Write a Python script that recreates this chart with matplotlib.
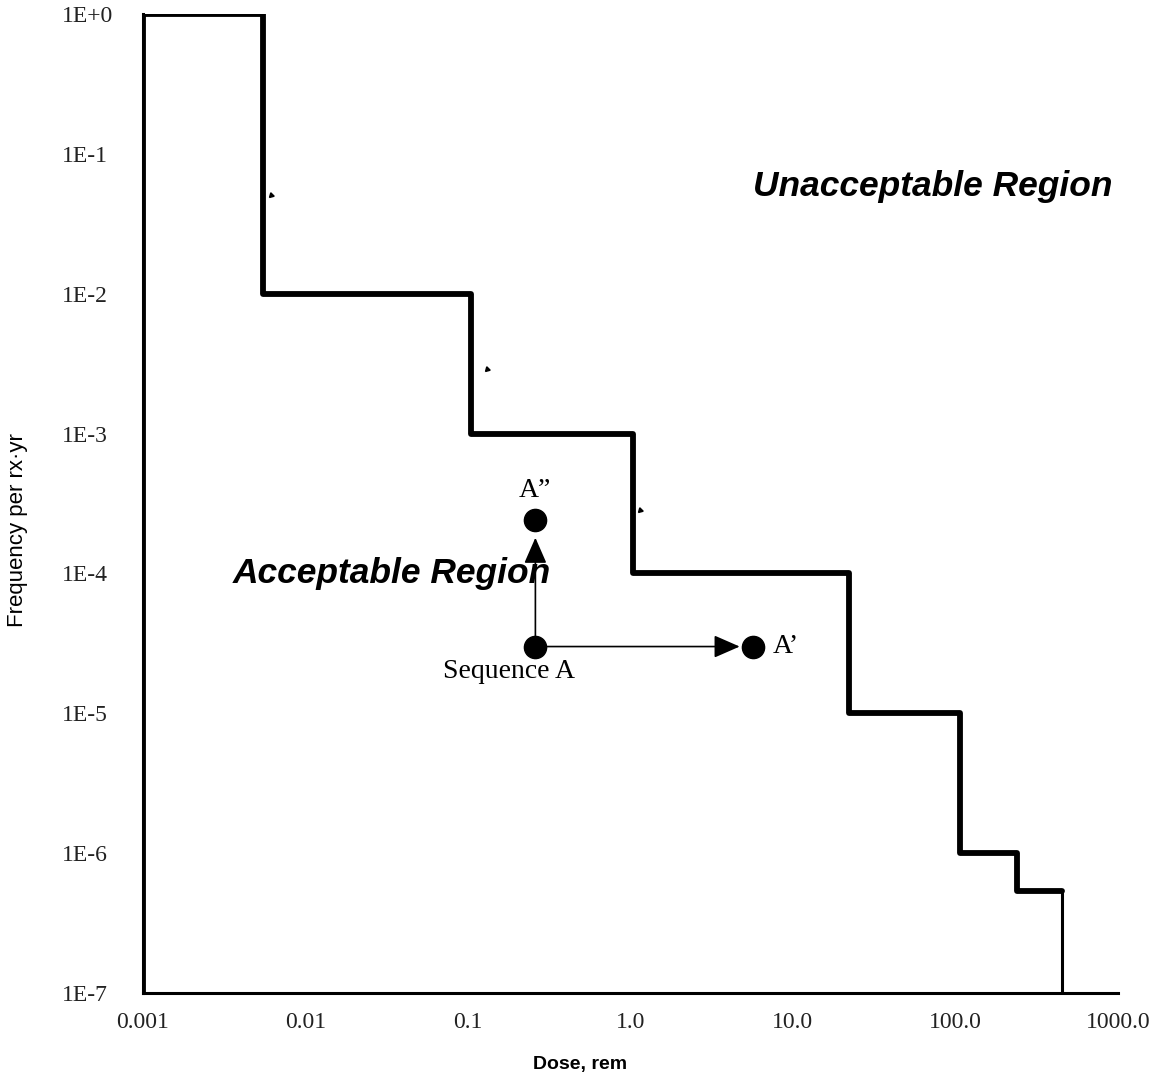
import matplotlib
matplotlib.use("Agg")
from matplotlib import pyplot as plt
import numpy as np

# step boundary between acceptable / unacceptable regions
dose_edges = [0.001, 0.0055, 0.105, 1.03, 22, 106, 240, 450]
freq_levels = [1.0, 1e-2, 1e-3, 1e-4, 1e-5, 1e-6, 5.4e-7]

# sequence A and its two variants
seq_a = (0.26, 3e-5)
seq_a1 = (5.7, 3e-5)      # A'
seq_a2 = (0.26, 2.4e-4)   # A"

# little tick marks on the boundary
mark_x = [0.0061, 0.131, 1.14]
mark_y = [0.051, 2.9e-3, 2.85e-4]

x_ticks = [0.001, 0.01, 0.1, 1, 10, 100, 1000]
x_labels = ["0.001", "0.01", "0.1", "1.0", "10.0", "100.0", "1000.0"]
y_ticks = [1, 1e-1, 1e-2, 1e-3, 1e-4, 1e-5, 1e-6, 1e-7]
y_labels = ["1E+0", "1E-1", "1E-2", "1E-3", "1E-4", "1E-5", "1E-6", "1E-7"]

serif = ["Liberation Serif", "DejaVu Serif"]
sans = ["Liberation Sans", "DejaVu Sans"]

fig = plt.figure(figsize=(11.66, 10.87), dpi=100)
ax = fig.add_axes([0.1226, 0.0865, 0.8362, 0.9006])
ax.set_xscale("log")
ax.set_yscale("log")
ax.set_xlim(0.001, 1000)
ax.set_ylim(1e-7, 1)

# boundary: left edge, then the staircase
xs = [dose_edges[0], dose_edges[0]]
ys = [1e-7, freq_levels[0]]
for i in range(1, len(dose_edges) - 1):
    xs += [dose_edges[i], dose_edges[i]]
    ys += [freq_levels[i - 1], freq_levels[i]]
xs.append(dose_edges[-1])
ys.append(freq_levels[-1])
ax.plot(xs, ys, color="black", lw=4.2, solid_joinstyle="round", solid_capstyle="round", zorder=3)
ax.plot([dose_edges[-1], dose_edges[-1]], [freq_levels[-1], 1e-7], color="black", lw=2.2, zorder=3)

ax.plot(mark_x, mark_y, ls="none", marker=(3, 0, 15), ms=4, color="black")

# points and arrows
for p in (seq_a, seq_a1, seq_a2):
    ax.plot(p[0], p[1], "o", ms=16, color="black", zorder=4)
arrow_style = dict(arrowstyle="-|>,head_length=1.6,head_width=0.7", color="black", lw=1.2,
                   shrinkA=0, shrinkB=0)
ax.annotate("", xy=(4.7, seq_a[1]), xytext=seq_a, arrowprops=arrow_style)
ax.annotate("", xy=(seq_a[0], 1.8e-4), xytext=seq_a, arrowprops=arrow_style)

ax.text(0.179, 2.0e-5, "Sequence A", family=serif, fontsize=20, ha="center", va="center")
ax.text(9.0, seq_a1[1], "A\u2019", family=serif, fontsize=20, ha="center", va="center")
ax.text(seq_a2[0], 3.9e-4, "A\u201d", family=serif, fontsize=20, ha="center", va="center")

ax.text(72, 0.058, "Unacceptable Region", family=sans, fontsize=25.5, fontweight="bold",
        fontstyle="italic", ha="center", va="center")
ax.text(0.034, 1.0e-4, "Acceptable Region", family=sans, fontsize=25.5, fontweight="bold",
        fontstyle="italic", ha="center", va="center")

ax.set_xticks(x_ticks)
ax.set_xticklabels(x_labels, family=serif, fontsize=17, color="#222222")
ax.set_yticks(y_ticks)
ax.set_yticklabels(y_labels, family=serif, fontsize=17, color="#222222", ha="left")
ax.minorticks_off()
ax.tick_params(axis="both", length=0)
ax.tick_params(axis="y", pad=58)
ax.tick_params(axis="x", pad=14)

for s in ("top", "right"):
    ax.spines[s].set_visible(False)
ax.spines["bottom"].set_linewidth(2.2)
ax.spines["left"].set_linewidth(2.2)

fig.text(580 / 1166, 1 - 1064 / 1087, "Dose, rem", family=sans, fontsize=14, fontweight="bold",
         ha="center", va="center")
fig.text(18 / 1166, 1 - 530 / 1087, "Frequency per rx\u00b7yr", family=["Liberation Sans Narrow"] + sans,
         fontsize=16, rotation=90, ha="center", va="center")

plt.savefig("out.png", dpi=100)
